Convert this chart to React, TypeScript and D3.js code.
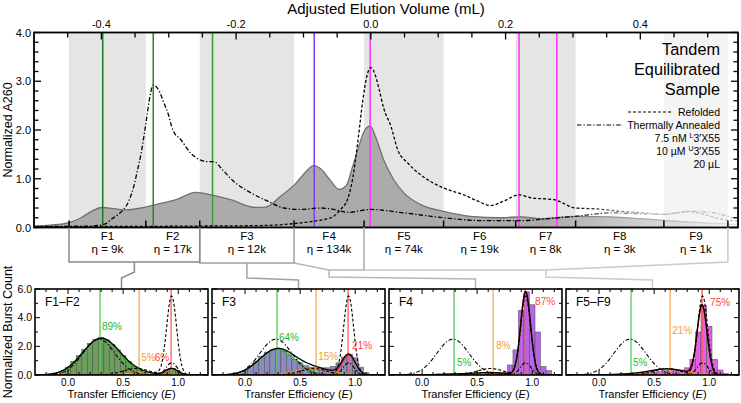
import React from "react";
import * as d3 from "d3";

const FONT = "'Liberation Sans', Arial, Helvetica, sans-serif";
const W = 741;
const H = 403;

// Size-exclusion traces: elution volume (mL) and normalized A260
const sampleVolume = [-0.499, -0.475, -0.448, -0.43, -0.416, -0.399, -0.378, -0.364, -0.341, -0.319, -0.289, -0.26, -0.237, -0.208, -0.171, -0.156, -0.134, -0.111, -0.096, -0.085, -0.074, -0.062, -0.047, -0.037, -0.027, -0.018, -0.009, -0.001, 0.007, 0.019, 0.034, 0.049, 0.074, 0.108, 0.148, 0.193, 0.223, 0.252, 0.304, 0.356, 0.401, 0.46, 0.519, 0.546];
const sampleA260 = [0.03, 0.05, 0.1, 0.2, 0.32, 0.41, 0.38, 0.36, 0.4, 0.47, 0.57, 0.72, 0.67, 0.57, 0.41, 0.42, 0.64, 0.91, 1.15, 1.27, 1.2, 1.0, 0.78, 0.85, 1.25, 1.66, 2.0, 2.08, 1.86, 1.39, 0.98, 0.71, 0.47, 0.33, 0.23, 0.2, 0.22, 0.18, 0.23, 0.22, 0.18, 0.12, 0.08, 0.06];

const refoldedVolume = [-0.499, -0.401, -0.252, -0.163, -0.114, -0.085, -0.059, -0.045, -0.034, -0.027, -0.019, -0.012, -0.006, 0.0, 0.004, 0.012, 0.019, 0.03, 0.04, 0.055, 0.074, 0.108, 0.138, 0.159, 0.178, 0.197, 0.22, 0.237, 0.272, 0.304, 0.337, 0.371, 0.405, 0.435, 0.47, 0.494, 0.524, 0.546];
const refoldedA260 = [0.02, 0.02, 0.03, 0.04, 0.08, 0.13, 0.2, 0.37, 0.6, 1.0, 1.8, 2.6, 3.1, 3.28, 3.22, 2.85, 2.45, 2.07, 1.59, 1.32, 1.08, 0.81, 0.67, 0.54, 0.45, 0.54, 0.67, 0.61, 0.57, 0.4, 0.38, 0.33, 0.3, 0.27, 0.33, 0.27, 0.16, 0.13];

const annealedVolume = [-0.499, -0.416, -0.393, -0.386, -0.374, -0.367, -0.359, -0.352, -0.346, -0.341, -0.334, -0.329, -0.323, -0.315, -0.307, -0.301, -0.294, -0.282, -0.267, -0.254, -0.242, -0.233, -0.22, -0.203, -0.178, -0.153, -0.129, -0.104, -0.074, -0.055, -0.034, 0.0, 0.049, 0.108, 0.168, 0.22, 0.278, 0.304, 0.356, 0.405, 0.435, 0.479, 0.519, 0.546];
const annealedA260 = [0.02, 0.03, 0.08, 0.16, 0.28, 0.37, 0.55, 0.84, 1.2, 1.52, 2.13, 2.6, 2.92, 2.82, 2.55, 2.34, 2.0, 1.8, 1.52, 1.39, 1.35, 1.35, 1.18, 0.94, 0.71, 0.54, 0.4, 0.37, 0.4, 0.37, 0.31, 0.37, 0.3, 0.2, 0.14, 0.14, 0.2, 0.23, 0.3, 0.28, 0.27, 0.33, 0.27, 0.16];

// Collected fractions
const fractionNames = ["F1", "F2", "F3", "F4", "F5", "F6", "F7", "F8", "F9"];
const fractionEta = ["9k", "17k", "12k", "134k", "74k", "19k", "8k", "3k", "1k"];
const fractionEdges = [-0.448, -0.334, -0.254, -0.114, -0.01, 0.108, 0.215, 0.304, 0.435, 0.53];

// Marker positions inside the chromatogram
const markerVolume = [-0.398, -0.323, -0.235, -0.084, -0.001, 0.22, 0.276];
const markerColors = ["#1f7a1f", "#24891f", "#3a9a34", "#7f3cff", "#ff30ff", "#ff30ff", "#ff30ff"];

const volumeTicks = [-0.4, -0.2, 0.0, 0.2, 0.4];
const a260Ticks = [0, 1, 2, 3, 4];
const legendNotes = ["7.5 nM |L|3\u2032X55", "10 \u00b5M |U|3\u2032X55", "20 \u00b5L"];

// smFRET histograms (bin centres in E, width 0.05)
const panelTitles = ["F1\u2013F2", "F3", "F4", "F5\u2013F9"];
const panelFractions = [[0, 1], [2, 2], [3, 3], [4, 8]];
const binCenters = [-0.15, -0.1, -0.05, 0.0, 0.05, 0.1, 0.15, 0.2, 0.25, 0.3, 0.35, 0.4, 0.45, 0.5, 0.55, 0.6, 0.65, 0.7, 0.75, 0.8, 0.85, 0.9, 0.95, 1.0, 1.05, 1.1, 1.15];
const histF1F2 = [0, 0.05, 0.2, 0.55, 0.95, 1.35, 1.8, 2.2, 2.5, 2.6, 2.45, 2.15, 1.75, 1.35, 0.95, 0.6, 0.35, 0.2, 0.12, 0.1, 0.15, 0.35, 0.45, 0.25, 0.08, 0.02, 0];
const histF3 = [0, 0.03, 0.1, 0.3, 0.6, 0.95, 1.3, 1.6, 1.75, 1.8, 1.65, 1.4, 1.1, 0.85, 0.65, 0.55, 0.5, 0.5, 0.5, 0.6, 0.85, 1.25, 1.45, 1.2, 0.55, 0.15, 0.02];
const histF4 = [0, 0, 0, 0.02, 0.02, 0.03, 0.03, 0.03, 0.03, 0.03, 0.03, 0.04, 0.05, 0.08, 0.1, 0.12, 0.12, 0.15, 0.2, 0.7, 1.75, 4.5, 5.8, 4.9, 3.0, 0.6, 0.3];
const histF5F9 = [0, 0, 0, 0.02, 0.02, 0.03, 0.03, 0.04, 0.04, 0.05, 0.08, 0.12, 0.15, 0.2, 0.25, 0.3, 0.3, 0.3, 0.35, 0.5, 1.1, 3.0, 4.85, 3.4, 1.1, 0.35, 0.1];
const histograms = [histF1F2, histF3, histF4, histF5F9];
const histColors = ["#6e9e5e", "#8a8cbf", "#b565e8", "#e55ee5"];

// Gaussian fit components [amplitude, centre, width]: low-, mid-, high-FRET
const fitLow = [[2.55, 0.3, 0.17], [1.8, 0.29, 0.16], [0.06, 0.29, 0.15], [0.06, 0.29, 0.15]];
const fitMid = [[0.13, 0.62, 0.15], [0.45, 0.62, 0.16], [0.17, 0.62, 0.15], [0.42, 0.62, 0.16]];
const fitHigh = [[0.45, 0.94, 0.055], [1.4, 0.94, 0.06], [5.8, 0.94, 0.045], [4.85, 0.935, 0.045]];
const popLow = ["89%", "64%", "5%", "5%"];
const popMid = ["5%", "15%", "8%", "21%"];
const popHigh = ["6%", "21%", "87%", "75%"];
const stateE = [0.29, 0.645, 0.935];

// Reference distributions
const refoldedFit = [[5.5, 0.94, 0.045], [0.45, 0.62, 0.12]];
const annealedFit = [[2.5, 0.28, 0.145], [0.85, 0.94, 0.05]];

const gauss = (e: number, p: number[]) => p[0] * Math.exp(-((e - p[1]) ** 2) / (2 * p[2] * p[2]));
const sumOf = (e: number, ps: number[][]) => ps.reduce((s, p) => s + gauss(e, p), 0);

const zip = (a: number[], b: number[]) => a.map((v, i) => [v, b[i]] as [number, number]);

const TOP = { l: 34, r: 738, t: 32.5, b: 227.5 };
const PANEL = { t: 289, b: 375, w: 173, x0: [35, 212, 389, 566] };

function Panel({ idx }: { idx: number }) {
  const x0 = PANEL.x0[idx];
  const sx = d3.scaleLinear().domain([-0.3, 1.27]).range([x0, x0 + PANEL.w]);
  const sy = d3.scaleLinear().domain([0, 6]).range([PANEL.b, PANEL.t]);
  const es = d3.range(-0.3, 1.2701, 0.005);
  const path = (f: (e: number) => number) =>
    d3
      .line<number>()
      .x((e) => sx(e))
      .y((e) => sy(f(e)))(es) as string;
  const hist = histograms[idx];
  const clipId = `pclip${idx}`;
  const xTicks = d3.range(-0.2, 1.21, 0.1);
  const yTicks = [0, 1, 2, 3, 4, 5, 6];
  const comps = [fitLow[idx], fitMid[idx], fitHigh[idx]];
  const compColors = ["#22b022", "#f29418", "#ff2020"];
  const lineColors = ["#4fcf4f", "#f5a855", "#ff5a5a"];
  const labelColors = ["#2fb52f", "#f0a038", "#ff4545"];
  const labels = [popLow[idx], popMid[idx], popHigh[idx]];
  // label placement: baseline y, x offset from the state line, anchor
  const labelLayout = [
    [[330, 2, "start"], [361, 2, "start"], [361, -2, "end"]],
    [[341, 2, "start"], [360, 2, "start"], [349, 4, "start"]],
    [[366, 3, "start"], [349, 3, "start"], [305, 10, "start"]],
    [[366, 2, "start"], [334, 2, "start"], [306, 8, "start"]],
  ][idx];
  return (
    <g>
      <defs>
        <clipPath id={clipId}>
          <rect x={x0} y={PANEL.t} width={PANEL.w} height={PANEL.b - PANEL.t} />
        </clipPath>
      </defs>
      <g clipPath={`url(#${clipId})`}>
        {binCenters.map((c, i) =>
          hist[i] > 0 ? (
            <rect
              key={i}
              x={sx(c - 0.025)}
              y={sy(hist[i])}
              width={sx(c + 0.025) - sx(c - 0.025)}
              height={sy(0) - sy(hist[i])}
              fill={histColors[idx]}
              stroke="#4a4a4a"
              strokeWidth={0.5}
            />
          ) : null
        )}
        {stateE.map((e, i) => (
          <line key={i} x1={sx(e)} x2={sx(e)} y1={PANEL.t} y2={PANEL.b} stroke={lineColors[i]} strokeWidth={1.3} />
        ))}
        {comps.map((p, i) => (
          <path key={i} d={path((e) => gauss(e, p))} fill="none" stroke={compColors[i]} strokeWidth={1.3} />
        ))}
        <path d={path((e) => sumOf(e, comps))} fill="none" stroke="#000" strokeWidth={1.3} />
        <path d={path((e) => sumOf(e, refoldedFit))} fill="none" stroke="#000" strokeWidth={1.1} strokeDasharray="3,2" />
        <path d={path((e) => sumOf(e, annealedFit))} fill="none" stroke="#000" strokeWidth={1.1} strokeDasharray="4,2,1.2,2" />
      </g>
      {labels.map((t, i) => (
        <text
          key={i}
          x={sx(stateE[i]) + (labelLayout[i][1] as number)}
          y={labelLayout[i][0] as number}
          textAnchor={labelLayout[i][2] as string}
          fontSize={10}
          fill={labelColors[i]}
          fontFamily={FONT}
        >
          {t}
        </text>
      ))}
      {xTicks.map((t, i) => {
        const major = Math.abs(t * 2 - Math.round(t * 2)) < 1e-6;
        const len = major ? 5 : 3;
        return (
          <g key={i}>
            <line x1={sx(t)} x2={sx(t)} y1={PANEL.b} y2={PANEL.b - len} stroke="#000" strokeWidth={1} />
            <line x1={sx(t)} x2={sx(t)} y1={PANEL.t} y2={PANEL.t + len} stroke="#000" strokeWidth={1} />
          </g>
        );
      })}
      {yTicks.map((t) => {
        const len = t % 2 === 0 ? 5 : 3;
        return (
          <g key={t}>
            <line x1={x0} x2={x0 + len} y1={sy(t)} y2={sy(t)} stroke="#000" strokeWidth={1} />
            <line x1={x0 + PANEL.w} x2={x0 + PANEL.w - len} y1={sy(t)} y2={sy(t)} stroke="#000" strokeWidth={1} />
          </g>
        );
      })}
      <rect x={x0} y={PANEL.t} width={PANEL.w} height={PANEL.b - PANEL.t} fill="none" stroke="#000" strokeWidth={1.6} />
      {[0, 0.5, 1.0].map((t) => (
        <text key={t} x={sx(t)} y={385.5} textAnchor="middle" fontSize={10} fontFamily={FONT}>
          {t.toFixed(1)}
        </text>
      ))}
      {idx === 0 &&
        [0, 2, 4, 6].map((t) => (
          <text key={t} x={32} y={sy(t) + 3.8} textAnchor="end" fontSize={10.5} fontFamily={FONT}>
            {t.toFixed(1)}
          </text>
        ))}
      <text x={x0 + PANEL.w / 2} y={398} textAnchor="middle" fontSize={11} fontFamily={FONT}>
        Transfer Efficiency (<tspan fontStyle="italic">E</tspan>)
      </text>
      <text x={x0 + 10} y={306} fontSize={12} fontFamily={FONT}>
        {panelTitles[idx]}
      </text>
    </g>
  );
}

export default function App() {
  const x = d3.scaleLinear().domain([-0.5, 0.545]).range([TOP.l, TOP.r]);
  const y = d3.scaleLinear().domain([0, 4]).range([TOP.b, TOP.t]);

  const lineGen = d3
    .line<[number, number]>()
    .x((d) => x(d[0]))
    .y((d) => y(d[1]))
    .curve(d3.curveMonotoneX);
  const areaGen = d3
    .area<[number, number]>()
    .x((d) => x(d[0]))
    .y0(y(0))
    .y1((d) => y(d[1]))
    .curve(d3.curveMonotoneX);

  const sample = zip(sampleVolume, sampleA260);
  const refolded = zip(refoldedVolume, refoldedA260);
  const annealed = zip(annealedVolume, annealedA260);

  const minorVol = d3.range(-0.45, 0.501, 0.05);
  const minorA = d3.range(0, 4.001, 0.2);

  // Pooled-fraction brackets leading down to the histograms
  const bracketColors = ["#8a8a8a", "#a0a0a0", "#b6b6b6", "#cacaca"];
  const brackets = panelFractions.map((g, k) => {
    const xl = x(fractionEdges[g[0]]);
    const xr = x(fractionEdges[g[1] + 1]);
    const xc = (xl + xr) / 2;
    const xt = PANEL.x0[k] + PANEL.w / 2;
    const yb = TOP.b;
    let arms: [number, number][];
    let stem: [number, number][];
    if (k === 0) {
      arms = [[xl, yb], [xl, 262], [xr, 262], [xr, yb]];
      stem = [[xc, 262], [xc, 272], [xt, 278], [xt, PANEL.t]];
    } else if (k === 1) {
      arms = [[xl, yb], [xl, 263], [xr, 263], [xr, yb]];
      stem = [[xc, 263], [xc, 278], [xt, 280], [xt, PANEL.t]];
    } else if (k === 2) {
      arms = [[xl, 263], [xc, 270], [xr, 270], [xr, yb]];
      stem = [[xc, 270], [xc, 277], [xt, 279], [xt, PANEL.t]];
    } else {
      arms = [[xl, yb], [xl, 270], [xc, 270], [xr, 262], [xr, yb]];
      stem = [[xc, 270], [xc, 277], [xt, 280], [xt, PANEL.t]];
    }
    return { arms, stem, color: bracketColors[k] };
  });

  return (
    <svg
      width={W}
      height={H}
      viewBox={`0 0 ${W} ${H}`}
      style={{ position: "absolute", left: 0, top: 0, background: "#fff" }}
      fontFamily={FONT}
    >
      <defs>
        <clipPath id="topclip">
          <rect x={TOP.l} y={TOP.t} width={TOP.r - TOP.l} height={TOP.b - TOP.t} />
        </clipPath>
        <linearGradient id="fadeFill" gradientUnits="userSpaceOnUse" x1={545} x2={735} y1={0} y2={0}>
          <stop offset="0" stopColor="#ababab" />
          <stop offset="1" stopColor="#f3f3f3" />
        </linearGradient>
        <linearGradient id="fadeEdge" gradientUnits="userSpaceOnUse" x1={545} x2={735} y1={0} y2={0}>
          <stop offset="0" stopColor="#707070" />
          <stop offset="1" stopColor="#e0e0e0" />
        </linearGradient>
        <linearGradient id="fadeInk" gradientUnits="userSpaceOnUse" x1={570} x2={650} y1={0} y2={0}>
          <stop offset="0" stopColor="#000" />
          <stop offset="1" stopColor="#bdbdbd" />
        </linearGradient>
      </defs>

      {/* fraction shading */}
      {fractionNames.map((n, i) =>
        i % 2 === 0 ? (
          <rect
            key={n}
            x={x(fractionEdges[i])}
            y={TOP.t}
            width={x(fractionEdges[i + 1]) - x(fractionEdges[i])}
            height={TOP.b - TOP.t}
            fill={i === 8 ? "#f4f4f4" : "#e5e5e5"}
          />
        ) : null
      )}

      <g clipPath="url(#topclip)">
        <path d={areaGen(sample) as string} fill="url(#fadeFill)" stroke="url(#fadeEdge)" strokeWidth={1.3} />
        {markerVolume.map((v, i) => (
          <line key={i} x1={x(v)} x2={x(v)} y1={TOP.t} y2={TOP.b} stroke={markerColors[i]} strokeWidth={1.5} />
        ))}
        <path d={lineGen(refolded) as string} fill="none" stroke="url(#fadeInk)" strokeWidth={1.3} strokeDasharray="3,2" />
        <path d={lineGen(annealed) as string} fill="none" stroke="url(#fadeInk)" strokeWidth={1.3} strokeDasharray="4.5,2,1.3,2" />
      </g>

      {/* axes frame */}
      <rect x={TOP.l} y={TOP.t} width={TOP.r - TOP.l} height={TOP.b - TOP.t} fill="none" stroke="#000" strokeWidth={1.8} />
      {minorVol.map((v, i) => {
        const major = volumeTicks.some((t) => Math.abs(t - v) < 1e-6);
        return <line key={i} x1={x(v)} x2={x(v)} y1={TOP.t} y2={TOP.t + (major ? 7 : 5)} stroke="#000" strokeWidth={1.3} />;
      })}
      {volumeTicks.map((t) => (
        <text key={t} x={x(t)} y={28} textAnchor="middle" fontSize={11}>
          {t === 0 ? "0.0" : t.toFixed(1)}
        </text>
      ))}
      {minorA.map((v, i) => {
        const major = a260Ticks.some((t) => Math.abs(t - v) < 1e-6);
        const len = major ? 7 : 4.5;
        return (
          <g key={i}>
            <line x1={TOP.l} x2={TOP.l + len} y1={y(v)} y2={y(v)} stroke="#000" strokeWidth={1.3} />
            <line x1={TOP.r} x2={TOP.r - len} y1={y(v)} y2={y(v)} stroke="#000" strokeWidth={1.3} />
          </g>
        );
      })}
      {a260Ticks.map((t) => (
        <text key={t} x={31} y={y(t) + 4} textAnchor="end" fontSize={11}>
          {t.toFixed(1)}
        </text>
      ))}
      {fractionEdges.map((v, i) => (
        <line key={i} x1={x(v)} x2={x(v)} y1={TOP.b} y2={TOP.b - 7} stroke="#000" strokeWidth={1.5} />
      ))}

      <text x={(TOP.l + TOP.r) / 2} y={13.5} textAnchor="middle" fontSize={15}>
        Adjusted Elution Volume (mL)
      </text>
      <text transform={`translate(12,${(TOP.t + TOP.b) / 2}) rotate(-90)`} textAnchor="middle" fontSize={12.5}>
        Normalized A260
      </text>

      {/* legend */}
      {["Tandem", "Equilibrated", "Sample"].map((t, i) => (
        <text key={t} x={720} y={55 + i * 20} textAnchor="end" fontSize={16.3}>
          {t}
        </text>
      ))}
      <line x1={628} x2={672} y1={112} y2={112} stroke="#000" strokeWidth={1.1} strokeDasharray="3,2" />
      <text x={720} y={115.5} textAnchor="end" fontSize={10.5}>
        Refolded
      </text>
      <line x1={577} x2={623} y1={125} y2={125} stroke="#000" strokeWidth={1.1} strokeDasharray="4.5,2,1.3,2" />
      <text x={720} y={128.5} textAnchor="end" fontSize={10.5}>
        Thermally Annealed
      </text>
      {legendNotes.map((t, i) => {
        const parts = t.split("|");
        return (
          <text key={i} x={720} y={142 + i * 13} textAnchor="end" fontSize={10.5}>
            {parts.length === 3 ? (
              <>
                {parts[0]}
                <tspan fontSize={7} dy={-4}>
                  {parts[1]}
                </tspan>
                <tspan dy={4}>{parts[2]}</tspan>
              </>
            ) : (
              t
            )}
          </text>
        );
      })}

      {/* fraction labels */}
      {fractionNames.map((n, i) => {
        const cx = (x(fractionEdges[i]) + x(fractionEdges[i + 1])) / 2;
        return (
          <g key={n}>
            <text x={cx} y={239.5} textAnchor="middle" fontSize={11.5}>
              {n}
            </text>
            <text x={cx} y={252.5} textAnchor="middle" fontSize={11.5}>
              {"\u03b7 = " + fractionEta[i]}
            </text>
          </g>
        );
      })}

      {brackets
        .slice()
        .reverse()
        .map((b, k) => (
          <g key={k} fill="none" stroke={b.color} strokeWidth={1.5}>
            <polyline points={b.arms.map((p) => p.join(",")).join(" ")} />
            <polyline points={b.stem.map((p) => p.join(",")).join(" ")} />
          </g>
        ))}

      {[0, 1, 2, 3].map((i) => (
        <Panel key={i} idx={i} />
      ))}
      <text transform={`translate(12,${(PANEL.t + PANEL.b) / 2}) rotate(-90)`} textAnchor="middle" fontSize={12.5}>
        Normalized Burst Count
      </text>
    </svg>
  );
}
